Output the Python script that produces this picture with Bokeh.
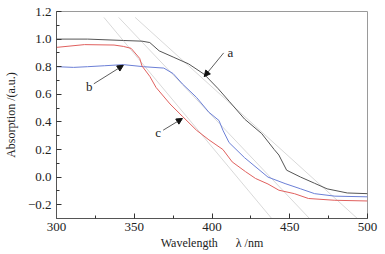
import math
from bokeh.plotting import figure
from bokeh.models import (Range1d, FixedTicker, CustomJSTickFormatter, Label,
                          Arrow, NormalHead)
from bokeh.embed import file_html
from bokeh.resources import INLINE

# ---- data ----
a_x = [300, 320, 343, 355, 360, 366, 375, 385, 395, 404, 411, 421, 432, 440, 443, 448, 457, 466, 474, 487, 500]
a_y = [1.00, 1.00, 0.99, 0.985, 0.975, 0.915, 0.87, 0.82, 0.745, 0.64, 0.55, 0.42, 0.315, 0.20, 0.16, 0.05, 0.0, -0.045, -0.085, -0.115, -0.12]

b_x = [300, 311, 320, 331, 343, 356, 369, 375, 381, 390, 398, 404.5, 407, 411, 421, 436, 447, 457, 466, 479, 500]
b_y = [0.80, 0.795, 0.80, 0.807, 0.815, 0.80, 0.79, 0.75, 0.675, 0.578, 0.47, 0.41, 0.34, 0.25, 0.14, 0.0, -0.047, -0.085, -0.12, -0.138, -0.143]

c_x = [300, 318, 337, 343, 348, 353.5, 355, 360, 364, 373, 381, 390, 398, 407, 413, 421.5, 428, 436, 443, 453, 462, 479, 500]
c_y = [0.94, 0.96, 0.957, 0.947, 0.933, 0.86, 0.805, 0.73, 0.65, 0.53, 0.44, 0.34, 0.27, 0.20, 0.11, 0.04, -0.01, -0.05, -0.095, -0.12, -0.155, -0.168, -0.173]

# tangent lines (start x, start y, end x, end y)
tan_x0 = [330.5, 340.0, 350.6]
tan_y0 = [1.157, 1.157, 1.157]
tan_x1 = [438.4, 462.7, 493.5]
tan_y1 = [-0.3, -0.3, -0.3]

x_ticks = [300, 350, 400, 450, 500]
x_minor = [325, 375, 425, 475]
y_ticks = [-0.2, 0.0, 0.2, 0.4, 0.6, 0.8, 1.0, 1.2]
y_minor = [-0.1, 0.1, 0.3, 0.5, 0.7, 0.9, 1.1]

series_labels = ["a", "b", "c"]
label_pos = [(411.8, 0.90), (321.0, 0.655), (365.4, 0.326)]
arrow_start = [(407.5, 0.90), (324.0, 0.676), (368.6, 0.34)]
arrow_end = [(395.0, 0.728), (343.0, 0.81), (381.0, 0.425)]

FONT = "'Liberation Serif'"
TXT = "#222222"
NB = "\u00a0"

p = figure(width=385, height=254, output_backend="svg", toolbar_location=None,
           x_range=Range1d(300, 500), y_range=Range1d(-0.3, 1.2),
           min_border_left=52, min_border_right=18, min_border_top=11,
           min_border_bottom=36)
p.background_fill_color = "white"
p.border_fill_color = "white"
p.grid.visible = False
p.outline_line_color = "#9a9a9a"
p.outline_line_width = 1

for ax in (p.xaxis[0], p.yaxis[0]):
    ax.axis_line_color = "#555555"
    ax.major_tick_line_color = "#333333"
    ax.minor_tick_line_color = "#333333"
    ax.major_tick_in = 5
    ax.major_tick_out = 0
    ax.minor_tick_in = 3
    ax.minor_tick_out = 0
    ax.major_label_text_font = FONT
    ax.major_label_text_font_size = "13px"
    ax.major_label_text_color = TXT
    ax.axis_label_text_font = FONT
    ax.axis_label_text_font_size = "12px"
    ax.axis_label_text_font_style = "normal"
    ax.axis_label_text_color = TXT

p.xaxis.axis_label = "Wavelength" + NB * 6 + "\u03bb" + NB + "/nm"
p.yaxis.axis_label = "Absorption /(a.u.)"
p.xaxis.axis_label_standoff = 2
p.yaxis.axis_label_standoff = 7

p.xaxis.ticker = FixedTicker(ticks=x_ticks, minor_ticks=x_minor)
p.yaxis.ticker = FixedTicker(ticks=y_ticks, minor_ticks=y_minor)
p.xaxis.formatter = CustomJSTickFormatter(code="return tick.toFixed(0);")
p.yaxis.formatter = CustomJSTickFormatter(
    code="var s = Math.abs(tick).toFixed(1); return (tick < -1e-9 ? '\u2212' : '') + s;")
p.xaxis.major_label_standoff = 4
p.yaxis.major_label_standoff = 5

# tangent lines
p.segment(x0=tan_x0, y0=tan_y0, x1=tan_x1, y1=tan_y1, line_color="#d9d9d9", line_width=1)

# curves
p.line(a_x, a_y, line_color="#555555", line_width=1)
p.line(b_x, b_y, line_color="#6b7fd6", line_width=1)
p.line(c_x, c_y, line_color="#e0605e", line_width=1)

# arrows and letters
for (xs, ys), (xe, ye) in zip(arrow_start, arrow_end):
    p.add_layout(Arrow(end=NormalHead(size=6, fill_color="#111111", line_color="#111111"),
                       x_start=xs, y_start=ys, x_end=xe, y_end=ye,
                       line_color="#333333", line_width=0.8))
for t, (lx, ly) in zip(series_labels, label_pos):
    p.add_layout(Label(x=lx, y=ly, text=t, text_font=FONT, text_font_size="13px",
                       text_color=TXT, text_align="center", text_baseline="middle"))

open("out.html", "w").write(file_html(p, INLINE))
